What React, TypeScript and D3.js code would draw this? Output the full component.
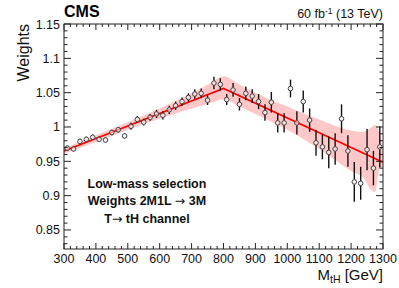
import React, { useEffect } from "react";
import * as d3 from "d3";

// bin centres (GeV) and measured weights
const masses = [
  310, 330, 350, 370, 390, 410, 430, 450, 470, 490,
  510, 530, 550, 570, 590, 610, 630, 650, 670, 690,
  710, 730, 750, 770, 790, 810, 830, 850, 870, 890,
  910, 930, 950, 970, 990, 1010, 1030, 1050, 1070, 1090,
  1110, 1130, 1150, 1170, 1190, 1210, 1230, 1250, 1270, 1290,
];
const weights = [
  0.969, 0.968, 0.979, 0.982, 0.985, 0.982, 0.981, 0.992, 0.996, 0.987,
  1.001, 1.011, 1.007, 1.014, 1.019, 1.017, 1.025, 1.031, 1.037, 1.043,
  1.048, 1.049, 1.039, 1.064, 1.062, 1.040, 1.054, 1.033, 1.049, 1.045,
  1.037, 1.021, 1.036, 1.006, 1.006, 1.056, 1.006, 1.037, 1.010, 0.977,
  0.971, 0.963, 0.968, 1.012, 0.965, 0.920, 0.918, 0.967, 0.940, 0.971,
];
const errors = [
  0.004, 0.004, 0.004, 0.004, 0.004, 0.004, 0.004, 0.004, 0.004, 0.004,
  0.005, 0.005, 0.005, 0.005, 0.006, 0.006, 0.006, 0.006, 0.006, 0.006,
  0.007, 0.007, 0.007, 0.009, 0.009, 0.008, 0.010, 0.009, 0.010, 0.010,
  0.011, 0.012, 0.015, 0.014, 0.014, 0.013, 0.017, 0.016, 0.017, 0.019,
  0.018, 0.023, 0.023, 0.021, 0.023, 0.029, 0.024, 0.030, 0.025, 0.030,
];

// fit (broken line) and its uncertainty band
const fitMass = [300, 800, 1300];
const fitValue = [0.965, 1.0562, 0.9487];
const bandMass = [300, 400, 500, 600, 700, 760, 800, 850, 900, 1000, 1100, 1200, 1240, 1260, 1275, 1290, 1300];
const bandUpper = [0.969, 0.988, 1.007, 1.027, 1.049, 1.064, 1.074, 1.062, 1.050, 1.030, 1.011, 0.995, 0.993, 0.998, 1.003, 0.990, 0.962];
const bandLower = [0.961, 0.978, 0.996, 1.012, 1.027, 1.035, 1.040, 1.030, 1.019, 0.996, 0.968, 0.936, 0.925, 0.910, 0.905, 0.940, 0.942];

const xMajor = [300, 400, 500, 600, 700, 800, 900, 1000, 1100, 1200, 1300];
const yMajor = [0.85, 0.9, 0.95, 1, 1.05, 1.1, 1.15];
const yLabels = ["0.85", "0.9", "0.95", "1", "1.05", "1.1", "1.15"];

const W = 399;
const H = 288;
const L = 64, R = 383, T = 24, B = 249;
const font = "'Liberation Sans', Arial, Helvetica, sans-serif";
const arrowFont = "'DejaVu Sans', sans-serif";

const App = () => {
  useEffect(() => {
    document.body.style.margin = "0";
  }, []);

  const x = d3.scaleLinear().domain([300, 1300]).range([L, R]);
  const y = d3.scaleLinear().domain([0.8223, 1.15]).range([B, T]);

  const band = d3
    .area<number>()
    .x((d, i) => x(bandMass[i]))
    .y0((d, i) => y(bandLower[i]))
    .y1((d, i) => y(bandUpper[i]))
    .curve(d3.curveMonotoneX)(bandMass);

  const fit = d3
    .line<number>()
    .x((d, i) => x(fitMass[i]))
    .y((d) => y(d))(fitValue);

  const xMinor = d3.range(300, 1301, 20);
  const yMinor = d3.range(83, 116, 1).map((v) => v / 100);
  const r = 2.3;

  return (
    <svg width={W} height={H} style={{ display: "block" }} fontFamily={font}>
      <path d={band || ""} fill="#ffc8c8" />
      <path d={fit || ""} fill="none" stroke="#ff0000" strokeWidth={1.6} />

      {masses.map((m, i) => {
        const cx = x(m);
        const cy = y(weights[i]);
        const yt = y(weights[i] + errors[i]);
        const yb = y(weights[i] - errors[i]);
        return (
          <g key={m}>
            {cy - yt > r && (
              <line x1={cx} x2={cx} y1={yt} y2={cy - r} stroke="#111" strokeWidth={1.4} />
            )}
            {yb - cy > r && (
              <line x1={cx} x2={cx} y1={cy + r} y2={yb} stroke="#111" strokeWidth={1.4} />
            )}
            <circle cx={cx} cy={cy} r={r} fill="#eee" fillOpacity={0.6} stroke="#444" strokeWidth={1} />
          </g>
        );
      })}

      {/* frame and ticks */}
      <rect x={L} y={T} width={R - L} height={B - T} fill="none" stroke="#222" strokeWidth={1} />
      {xMinor.map((v) => {
        const major = v % 100 === 0;
        const len = major ? 6 : 3;
        return (
          <g key={"xt" + v} stroke="#222" strokeWidth={1}>
            <line x1={x(v)} x2={x(v)} y1={B} y2={B - len} />
            <line x1={x(v)} x2={x(v)} y1={T} y2={T + len} />
          </g>
        );
      })}
      {yMinor.map((v) => {
        const major = Math.round(v * 100) % 5 === 0;
        const len = major ? 7 : 3.5;
        return (
          <g key={"yt" + v} stroke="#222" strokeWidth={1}>
            <line x1={L} x2={L + len} y1={y(v)} y2={y(v)} />
            <line x1={R} x2={R - len} y1={y(v)} y2={y(v)} />
          </g>
        );
      })}

      {xMajor.map((v) => (
        <text key={"xl" + v} x={x(v)} y={263} textAnchor="middle" fontSize={12.5} fill="#111">
          {v}
        </text>
      ))}
      {yMajor.map((v, i) => (
        <text key={"yl" + v} x={60} y={y(v)} dy="0.36em" textAnchor="end" fontSize={12.5} fill="#111">
          {yLabels[i]}
        </text>
      ))}

      <text x={R} y={280} textAnchor="end" fontSize={15} fill="#111">
        M<tspan fontSize={10.5} dy={3}>tH</tspan>
        <tspan dy={-3}> [GeV]</tspan>
      </text>
      <text transform={`translate(29,${T}) rotate(-90)`} textAnchor="end" fontSize={16} fill="#111">
        Weights
      </text>

      <text x={L} y={17} fontSize={16} fontWeight="bold" fill="#000">
        CMS
      </text>
      <text x={R} y={18} textAnchor="end" fontSize={12.5} fill="#111">
        60 fb<tspan fontSize={8.5} dy={-4}>-1</tspan>
        <tspan dy={4}> (13 TeV)</tspan>
      </text>

      <g fontWeight="bold" fontSize={12.5} textAnchor="middle" fill="#111">
        <text x={147} y={188}>Low-mass selection</text>
        <text x={147} y={205}>
          Weights 2M1L <tspan fontFamily={arrowFont} fontWeight="normal">{"\u2192"}</tspan> 3M
        </text>
        <text x={147} y={223}>
          T<tspan fontFamily={arrowFont} fontWeight="normal">{"\u2192"}</tspan> tH channel
        </text>
      </g>
    </svg>
  );
};

export default App;
